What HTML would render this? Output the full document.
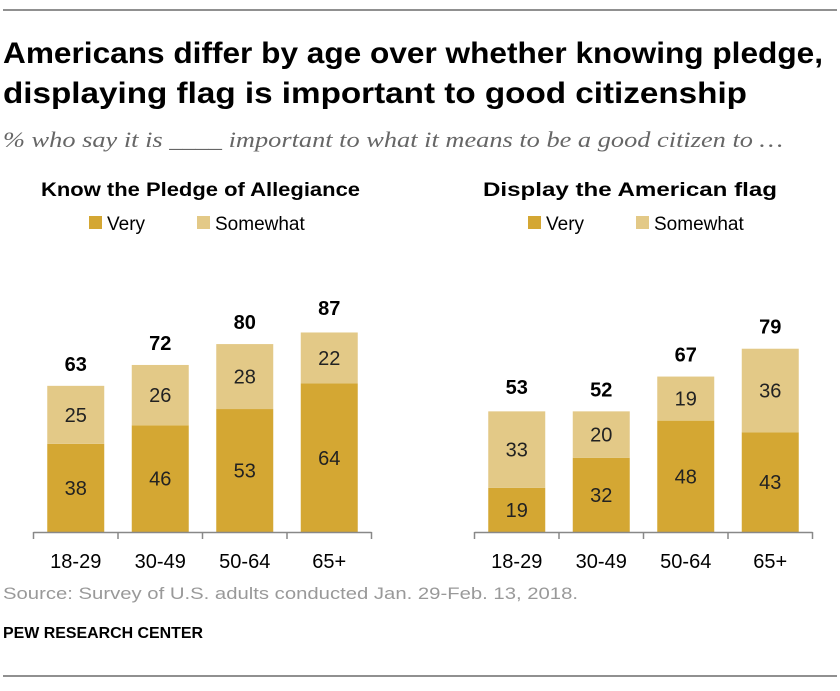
<!DOCTYPE html>
<html><head><meta charset="utf-8"><style>
body{margin:0;background:#fff;width:840px;height:686px;overflow:hidden;font-family:"Liberation Sans",sans-serif;}
</style></head><body>
<svg width="840" height="686" viewBox="0 0 840 686" xmlns="http://www.w3.org/2000/svg">
<line x1="3" y1="10" x2="837" y2="10" stroke="#222" stroke-width="1"/>
<text x="3" y="63" font-size="30" font-weight="bold" fill="#000" textLength="820" lengthAdjust="spacingAndGlyphs">Americans differ by age over whether knowing pledge,</text>
<text x="3" y="103" font-size="30" font-weight="bold" fill="#000" textLength="744" lengthAdjust="spacingAndGlyphs">displaying flag is important to good citizenship</text>
<text x="3" y="147" font-size="22" font-style="italic" fill="#666" font-family="Liberation Serif,serif" textLength="780" lengthAdjust="spacingAndGlyphs">% who say it is ____ important to what it means to be a good citizen to …</text>
<g id="charts"></g>
<text x="3" y="599" font-size="17" fill="#999" textLength="575" lengthAdjust="spacingAndGlyphs">Source: Survey of U.S. adults conducted Jan. 29-Feb. 13, 2018.</text>
<text x="3" y="638" font-size="16" font-weight="bold" fill="#000" textLength="200" lengthAdjust="spacingAndGlyphs">PEW RESEARCH CENTER</text>
<line x1="3" y1="676" x2="837" y2="676" stroke="#222" stroke-width="1"/>
</svg>
<script>
const categories = ["18-29","30-49","50-64","65+"];
const pledgeVery = [38,46,53,64];
const pledgeSomewhat = [25,26,28,22];
const pledgeTotal = [63,72,80,87];
const flagVery = [19,32,48,43];
const flagSomewhat = [33,20,19,36];
const flagTotal = [53,52,67,79];

const NS="http://www.w3.org/2000/svg";
const root=document.getElementById('charts');
const VERY="#d4a733", SOME="#e3c987";
const baseY=532, pxPerUnit=2.32, band=84.5, barW=57;
function y(v){return baseY - v*pxPerUnit;}
function mk(tag,attrs,parent){const e=document.createElementNS(NS,tag);for(const k in attrs)e.setAttribute(k,attrs[k]);(parent||root).appendChild(e);return e;}
function txt(x,yy,s,size,weight,fill,anchor,parent){const t=mk('text',{x:x,y:yy,'font-size':size,'font-weight':weight||'normal',fill:fill||'#000','text-anchor':anchor||'start'},parent);t.textContent=s;return t;}

function drawChart(x0,title,titleX,titleLen,legendX,very,some,total,key){
  const g=mk('g',{});
  
  
  const t=txt(titleX,196,title,19,'bold','#000','start',g);
  t.setAttribute('textLength',titleLen);
  t.setAttribute('lengthAdjust','spacingAndGlyphs');
  
  
  const r1=mk('rect',{x:legendX,y:216,width:13,height:13,fill:VERY},g);
  
  
  const l1=txt(legendX+18,230,'Very',19,'normal','#000','start',g);
  
  
  const r2=mk('rect',{x:legendX+108,y:216,width:13,height:13,fill:SOME},g);
  
  
  const l2=txt(legendX+126,230,'Somewhat',19,'normal','#000','start',g);
  
  
  categories.forEach((c,i)=>{
    const cx=x0+band*(i+0.5), bx=cx-barW/2;
    const v=very[i], s=some[i];
    const b1=mk('rect',{x:bx,y:y(v),width:barW,height:v*pxPerUnit,fill:VERY},g);
    
    
    const b2=mk('rect',{x:bx,y:y(v+s),width:barW,height:s*pxPerUnit,fill:SOME},g);
    
    
    const lv=txt(cx,(y(v)+baseY)/2+7,String(v),20,'normal','#222','middle',g);
    
    
    const ls=txt(cx,(y(v)+y(v+s))/2+7,String(s),20,'normal','#222','middle',g);
    
    
    const lt=txt(cx,y(Math.max(total[i],v+s))-15,String(total[i]),20,'bold','#000','middle',g);
    
    
    const xl=txt(cx,568,c,20,'normal','#000','middle',g);
    
    
  });
  const ax=mk('line',{x1:x0,y1:baseY+0.5,x2:x0+band*4,y2:baseY+0.5,stroke:'#888','stroke-width':1.5},g);
  
  
  for(let i=0;i<=4;i++){
    const tk=mk('line',{x1:x0+band*i,y1:baseY,x2:x0+band*i,y2:baseY+7,stroke:'#888','stroke-width':1.5},g);
    
    
  }
}
drawChart(33.5,'Know the Pledge of Allegiance',41,319,89,pledgeVery,pledgeSomewhat,pledgeTotal,'pledge');
drawChart(474.5,'Display the American flag',483,294,528,flagVery,flagSomewhat,flagTotal,'flag');
</script>
</body></html>
